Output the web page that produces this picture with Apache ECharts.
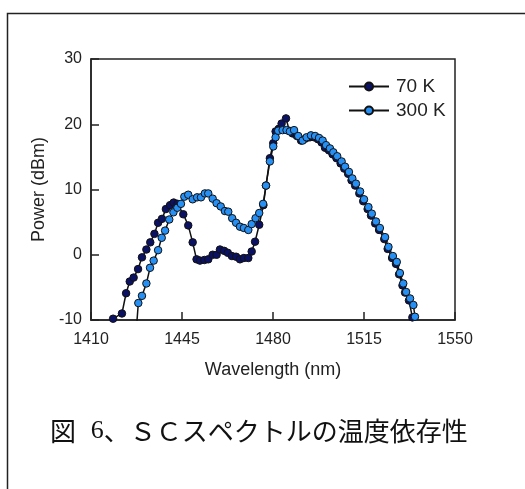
<!DOCTYPE html>
<html><head><meta charset="utf-8">
<script src="https://cdn.jsdelivr.net/npm/echarts@6/dist/echarts.min.js"></script>
<style>html,body{margin:0;padding:0;background:#fff}#c{width:525px;height:489px}</style>
</head><body><div id="c"></div>
<script>
var xTicks = [1410, 1445, 1480, 1515, 1550];
var yTicks = [-10, 0, 10, 20, 30];
var seriesNames = ['70 K', '300 K'];

var wl70 = [1418.5,1421.9,1423.5,1424.9,1426.4,1428.1,1429.6,1431.3,1432.8,1434.4,1435.8,1437.3,1438.8,1440.4,1441.8,1443.3,1445.5,1447.4,1449.1,1450.6,1451.9,1453.6,1455.1,1456.8,1458.3,1459.6,1461.2,1462.6,1464.2,1465.8,1467.3,1468.8,1470.5,1471.8,1473.1,1474.7,1476.3,1477.3,1478.8,1480.1,1481.0,1482.2,1483.3,1485.0,1486.3,1487.5,1489.2,1490.8,1492.5,1494.2,1495.8,1497.3,1498.7,1500.0,1501.5,1502.9,1504.4,1506.0,1507.4,1508.9,1510.2,1511.6,1513.2,1514.7,1516.4,1517.7,1519.3,1520.8,1522.8,1524.1,1525.8,1527.3,1528.5,1529.8,1530.8,1532.3,1533.6,1534.2];
var p70 = [-9.8,-9.0,-5.9,-4.1,-3.5,-2.2,-0.4,0.8,1.9,3.2,4.9,5.5,7.0,7.6,8.0,7.8,6.2,4.5,1.9,-0.7,-0.9,-0.8,-0.7,0.0,0.0,0.8,0.6,0.3,-0.2,-0.3,-0.7,-0.5,-0.5,0.5,2.0,4.6,7.6,10.6,14.8,17.1,18.9,19.3,20.1,20.9,19.0,18.6,18.2,17.5,17.8,18.0,18.0,17.7,17.2,16.4,16.0,15.4,14.8,14.0,13.2,12.4,11.4,10.6,9.4,8.2,7.0,6.0,4.8,3.8,2.4,0.9,-0.5,-1.4,-3.0,-4.7,-5.8,-7.0,-9.6,-10.6];

var wl300 = [1427.6,1428.2,1429.6,1431.3,1432.7,1434.1,1435.8,1437.2,1438.5,1440.1,1441.7,1443.2,1444.6,1445.9,1447.4,1449.1,1450.8,1452.3,1453.8,1455.1,1456.8,1458.3,1459.9,1461.5,1462.8,1464.3,1465.8,1467.3,1468.8,1470.5,1471.8,1473.3,1474.7,1476.2,1477.3,1478.8,1480.1,1481.0,1482.0,1483.7,1485.2,1486.5,1488.1,1489.7,1491.4,1492.9,1494.6,1496.2,1497.7,1499.1,1500.4,1501.9,1503.2,1504.7,1506.4,1507.7,1509.2,1510.5,1511.9,1513.5,1515.0,1516.7,1518.0,1519.6,1521.1,1523.1,1524.4,1526.1,1527.6,1528.8,1530.1,1531.2,1532.7,1534.0,1534.6,1535.0];
var p300 = [-10.6,-7.4,-6.3,-4.4,-2.0,-0.9,0.7,2.6,3.7,5.4,6.5,7.2,7.8,8.9,9.2,8.5,8.8,8.8,9.4,9.4,8.6,7.9,7.4,6.7,6.6,5.6,4.9,4.3,4.1,3.8,4.7,5.6,6.4,7.8,10.6,14.3,16.6,18.0,19.0,19.1,19.1,18.9,19.1,18.2,17.5,18.0,18.3,18.2,17.9,17.5,16.8,16.3,15.7,15.1,14.3,13.5,12.7,11.7,10.9,9.7,8.5,7.3,6.3,5.1,4.1,2.7,1.2,-0.2,-1.1,-2.8,-4.4,-5.7,-6.7,-7.7,-9.5,-10.6];

function zip(a, b) { return a.map(function (v, i) { return [v, b[i]]; }); }

var chart = echarts.init(document.getElementById('c'), null, {renderer: 'canvas'});
var axisFont = 'Liberation Sans, Arial, sans-serif';
chart.setOption({
  animation: false,
  backgroundColor: '#fff',
  grid: {left: 91, top: 59, right: 70, bottom: 169, show: true, borderColor: '#222', borderWidth: 1.5},
  legend: {
    orient: 'vertical', left: 343, top: 72, itemWidth: 40, itemHeight: 10, itemGap: 5,
    data: seriesNames,
    textStyle: {fontFamily: axisFont, fontSize: 19, color: '#222', padding: [0, 0, 0, 2]}
  },
  xAxis: {
    type: 'value', min: xTicks[0], max: xTicks[xTicks.length - 1], interval: 35,
    name: 'Wavelength (nm)', nameLocation: 'middle', nameGap: 41,
    nameTextStyle: {fontFamily: axisFont, fontSize: 18, color: '#222'},
    axisLine: {onZero: false, lineStyle: {color: '#222', width: 1.5}},
    axisTick: {inside: true, length: 8, lineStyle: {color: '#222', width: 1.5}},
    axisLabel: {fontFamily: axisFont, fontSize: 16, color: '#222', margin: 12, showMinLabel: true, showMaxLabel: true,
      formatter: function (v) { return String(v); }},
    splitLine: {show: false}
  },
  yAxis: {
    type: 'value', min: yTicks[0], max: yTicks[yTicks.length - 1], interval: 10,
    name: 'Power (dBm)', nameLocation: 'middle', nameGap: 36,
    nameTextStyle: {fontFamily: axisFont, fontSize: 18, color: '#222'},
    axisLine: {show: true, onZero: false, lineStyle: {color: '#222', width: 1.5}},
    axisTick: {show: true, inside: true, length: 8, lineStyle: {color: '#222', width: 1.5}},
    axisLabel: {fontFamily: axisFont, fontSize: 16, color: '#222', margin: 9},
    splitLine: {show: false}
  },
  series: [
    {
      name: seriesNames[0], type: 'line', data: zip(wl70, p70), clip: true,
      symbol: 'circle', symbolSize: 7.5, showAllSymbol: true,
      lineStyle: {color: '#111', width: 1.5},
      itemStyle: {color: '#0b1264', borderColor: '#111', borderWidth: 1}
    },
    {
      name: seriesNames[1], type: 'line', data: zip(wl300, p300), clip: true,
      symbol: 'circle', symbolSize: 7.5, showAllSymbol: true,
      lineStyle: {color: '#111', width: 1.5},
      itemStyle: {color: '#2690f5', borderColor: '#111', borderWidth: 1}
    }
  ],
  graphic: [
    {type: 'rect', shape: {x: 7.5, y: 13.5, width: 700, height: 700}, style: {fill: 'none', stroke: '#222', lineWidth: 1.5}, silent: true, z: -1},
    {
      type: 'text', x: 50, y: 431,
      style: {
        text: '{a|図 }{b|6}{c|、ＳＣスペクトルの温度依存性}',
        verticalAlign: 'middle', align: 'left',
        rich: {
          a: {fontFamily: 'Noto Sans CJK JP', fontSize: 26, fill: '#111', padding: [0, 9, 0, 0]},
          b: {fontFamily: 'Liberation Serif', fontSize: 26, fill: '#111'},
          c: {fontFamily: 'Noto Sans CJK JP', fontSize: 26, fill: '#111'}
        }
      }
    }
  ]
});
</script></body></html>
